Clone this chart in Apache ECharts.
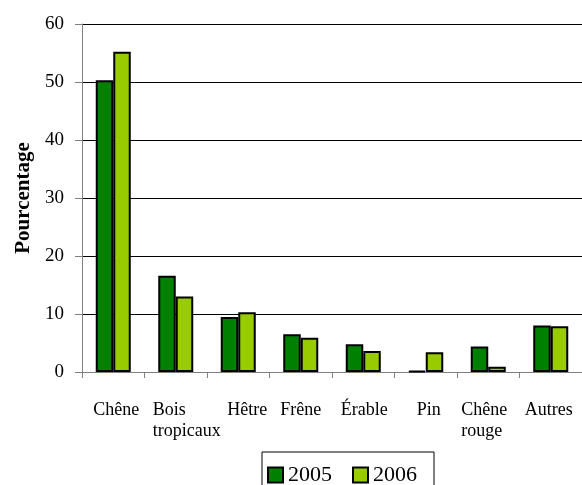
<!DOCTYPE html>
<html>
<head>
<meta charset="utf-8">
<script src="https://cdn.jsdelivr.net/npm/echarts@6/dist/echarts.min.js"></script>
<style>
  html, body { margin: 0; padding: 0; background: #fff; }
  #chart { width: 582px; height: 485px; }
</style>
</head>
<body>
<div id="chart"></div>
<script>
// Wood species and their share (%) for each year
const categories = ['Chêne', 'Bois\ntropicaux', 'Hêtre', 'Frêne', 'Érable', 'Pin', 'Chêne\nrouge', 'Autres'];
const values2005 = [50.3, 16.6, 9.5, 6.5, 4.8, 0.2, 4.4, 8.0];
const values2006 = [55.2, 13.0, 10.3, 5.9, 3.6, 3.4, 0.9, 7.9];
const seriesNames = ['2005', '2006'];
const yTicks = [0, 10, 20, 30, 40, 50, 60];

// Horizontal nudge (px) of each category label
const labelShift = [3, 11, 9, 0, 1, 3, -4, -2];

const FONT = '"Liberation Serif", "Times New Roman", serif';

// One rich style per label so each can carry its own nudge
const rich = {};
labelShift.forEach((s, i) => {
  rich['c' + i] = {
    fontFamily: FONT,
    fontSize: 18,
    lineHeight: 21,
    color: '#000',
    align: 'left',
    padding: [0, s < 0 ? -2 * s : 0, 0, s > 0 ? 2 * s : 0]
  };
});

const chart = echarts.init(document.getElementById('chart'), null, { renderer: 'canvas' });

chart.setOption({
  animation: false,
  backgroundColor: '#fff',
  grid: { left: 82, right: -7, top: 24, bottom: 113, containLabel: false },
  legend: {
    left: 262,
    top: 452,
    orient: 'horizontal',
    data: seriesNames,
    icon: 'rect',
    itemWidth: 15,
    itemHeight: 15,
    itemGap: 20,
    padding: [12, 17, 20, 5],
    borderColor: '#000',
    borderWidth: 1,
    textStyle: { fontFamily: FONT, fontSize: 22, color: '#000' }
  },
  xAxis: {
    type: 'category',
    data: categories,
    boundaryGap: true,
    axisLine: { show: true, lineStyle: { color: '#808080', width: 1 } },
    axisTick: { show: true, length: 6, lineStyle: { color: '#808080' } },
    axisLabel: {
      interval: 0,
      margin: 28,
      formatter: (value, index) =>
        value.split('\n').map(line => '{c' + index + '|' + line + '}').join('\n'),
      rich: rich
    },
    splitLine: { show: false }
  },
  yAxis: {
    type: 'value',
    min: yTicks[0],
    max: yTicks[yTicks.length - 1],
    interval: 10,
    name: 'Pourcentage',
    nameLocation: 'middle',
    nameGap: 48,
    nameRotate: 90,
    nameTextStyle: { fontFamily: FONT, fontSize: 21, fontWeight: 'bold', color: '#000' },
    axisLine: { show: true, lineStyle: { color: '#808080', width: 1 } },
    axisTick: { show: true, inside: false, length: 7, lineStyle: { color: '#808080' } },
    axisLabel: { margin: 18, fontFamily: FONT, fontSize: 19, color: '#000' },
    splitLine: { show: true, lineStyle: { color: '#000', width: 1 } }
  },
  series: [
    {
      name: seriesNames[0],
      type: 'bar',
      data: values2005,
      barWidth: 17.5,
      barGap: '0%',
      itemStyle: { color: '#008000', borderColor: '#000', borderWidth: 2 }
    },
    {
      name: seriesNames[1],
      type: 'bar',
      data: values2006,
      barWidth: 17.5,
      barGap: '0%',
      itemStyle: { color: '#99CC00', borderColor: '#000', borderWidth: 2 }
    }
  ]
});
</script>
</body>
</html>
